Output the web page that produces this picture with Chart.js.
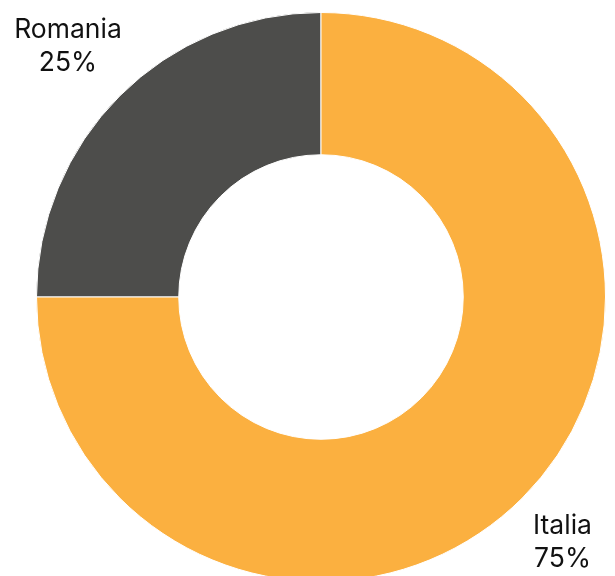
<!DOCTYPE html>
<html>
<head>
  <title>Doughnut</title>
  <script src="https://cdn.jsdelivr.net/npm/chart.js"></script>
  <style>
    html, body { margin: 0; padding: 0; overflow: hidden; background: #fff; }
    #wrap { width: 615px; height: 594px; }
  </style>
</head>
<body>
  <div id="wrap"><canvas id="myChart" width="615" height="594"></canvas></div>
  <script>
    const countries = ['Romania', 'Italia'];
    const shares = [25, 75];
    const colors = ['#4d4d4b', '#fbb040'];

    // corner labels: Romania top-left, Italia bottom-right
    const cornerLabels = {
      id: 'cornerLabels',
      afterDraw(chart) {
        const ctx = chart.ctx;
        ctx.save();
        ctx.font = '26.5px Inter';
        ctx.fillStyle = '#111';
        ctx.textAlign = 'center';
        ctx.textBaseline = 'alphabetic';
        const spots = [
          { x: 68, y: 37.5 },
          { x: 562.5, y: 533.5 }
        ];
        countries.forEach((c, i) => {
          const p = spots[i];
          ctx.fillText(c, p.x, p.y);
          ctx.fillText(shares[i] + '%', p.x, p.y + 33);
        });
        ctx.restore();
      }
    };

    const ctx = document.getElementById('myChart').getContext('2d');
    new Chart(ctx, {
      type: 'doughnut',
      data: {
        labels: countries,
        datasets: [{
          data: shares,
          backgroundColor: colors,
          borderColor: '#ffffff',
          borderWidth: 1
        }]
      },
      options: {
        responsive: false,
        animation: false,
        cutout: '50%',
        rotation: -90,
        layout: { padding: { left: 36, right: 9, top: 12, bottom: 12 } },
        plugins: {
          legend: { display: false },
          tooltip: { enabled: false }
        }
      },
      plugins: [cornerLabels]
    });
  </script>
</body>
</html>
